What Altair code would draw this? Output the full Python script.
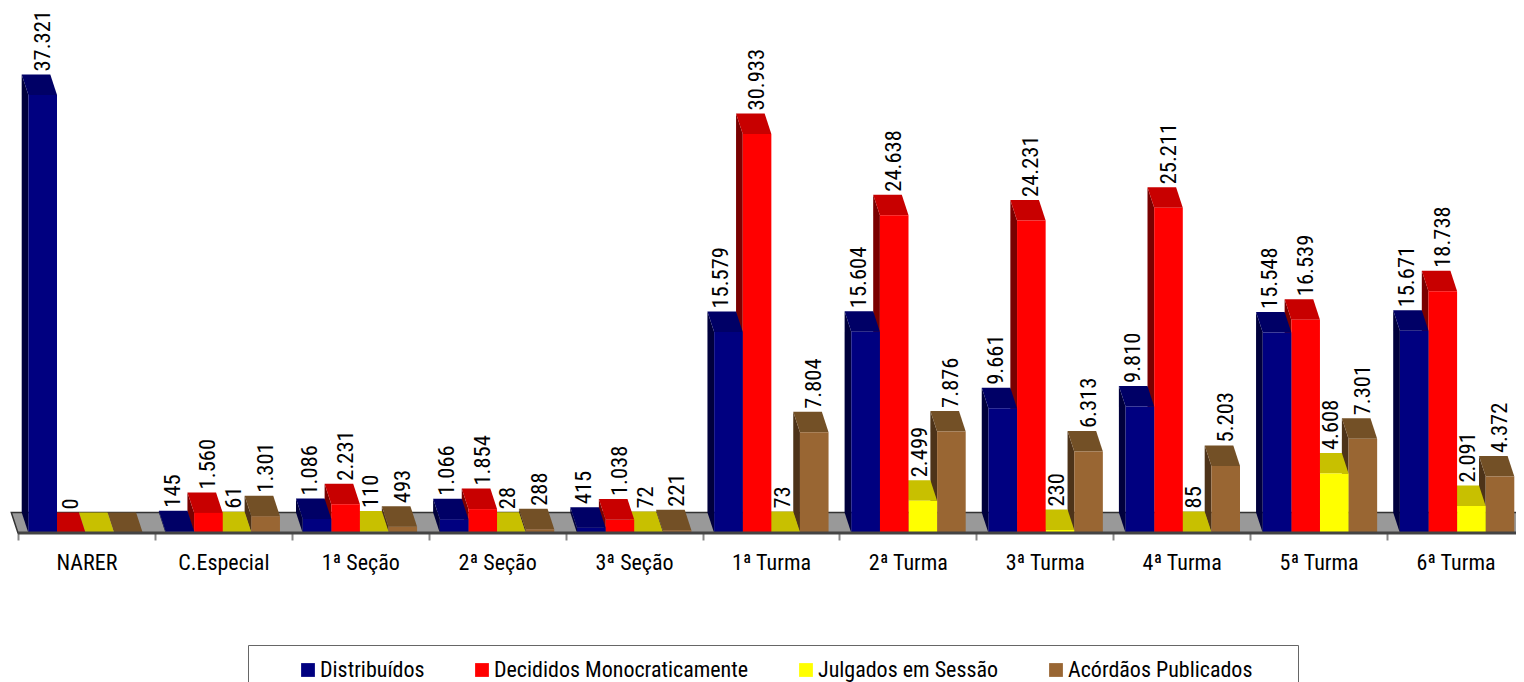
import altair as alt
import pandas as pd

categories = ["NARER", "C.Especial", "1ª Seção", "2ª Seção", "3ª Seção", "1ª Turma",
              "2ª Turma", "3ª Turma", "4ª Turma", "5ª Turma", "6ª Turma"]
series_names = ["Distribuídos", "Decididos Monocraticamente", "Julgados em Sessão", "Acórdãos Publicados"]
distribuidos = [37321, 145, 1086, 1066, 415, 15579, 15604, 9661, 9810, 15548, 15671]
decididos = [0, 1560, 2231, 1854, 1038, 30933, 24638, 24231, 25211, 16539, 18738]
julgados = [0, 61, 110, 28, 72, 73, 2499, 230, 85, 4608, 2091]
acordaos = [0, 1301, 493, 288, 221, 7804, 7876, 6313, 5203, 7301, 4372]
series_values = [distribuidos, decididos, julgados, acordaos]

front_colors = ["#000080", "#ff0000", "#ffff00", "#996633"]
top_colors = ["#000066", "#c80000", "#c8c000", "#735026"]
side_colors = ["#00003c", "#7a0000", "#7a7a00", "#4d3319"]
label_shift_px = [-7, 0, -3, 0]   # labels do not sit exactly above the bar centres

FONT = "Roboto Condensed"
PX_X = 136.9            # pixels per category on the axis
BAR_STEP = 137.15 / PX_X  # bars step slightly wider than the ticks
PX_Y = 0.0129           # pixels per unit
AXIS_MAX = 33950        # value axis maximum: taller bars are cut here
DEPTH_X = 6.7 / PX_X    # oblique depth of a bar in x units
DEPTH_Y = 20.5 / PX_Y   # oblique depth of a bar in y units
GAP = 10.4 / PX_X
BAR_W = 28.6 / PX_X

WIDTH, HEIGHT = 1508, 525
xs = alt.Scale(domain=[-10 / PX_X, 1498 / PX_X], nice=False, zero=False)
ys = alt.Scale(domain=[0, HEIGHT / PX_Y], nice=False, zero=False)

n = len(categories)
label_expr = "(" + str(categories + [""]) + ")[datum.value]"
x_axis = alt.Axis(values=list(range(n + 1)), labelExpr=label_expr, title=None, grid=False,
                  labelOffset=PX_X / 2, labelFont=FONT, labelFontSize=22, labelColor="#000",
                  labelPadding=12, labelBound=False, labelFlush=False, labelOverlap=False,
                  tickColor="#888888", tickSize=7, tickWidth=2, domain=False)


def X():
    return alt.X("x:Q", scale=xs, axis=x_axis, stack=False)


def Y():
    return alt.Y("y:Q", scale=ys, axis=None, stack=False)


fronts, tops, sides, texts = [], [], [], []
for s, vals in enumerate(series_values):
    for c, v in enumerate(vals):
        h = min(v, AXIS_MAX)
        x0 = c * BAR_STEP + GAP + s * BAR_W
        key = f"{s}-{c}"
        base = {"s": s, "key": key, "serie": series_names[s]}
        fronts += [{**base, "y": 0, "x": x0, "x2": x0 + BAR_W},
                   {**base, "y": h, "x": x0, "x2": x0 + BAR_W}]
        tops += [{**base, "y": h, "x": x0, "x2": x0 + BAR_W},
                 {**base, "y": h + DEPTH_Y, "x": x0 - DEPTH_X, "x2": x0 + BAR_W - DEPTH_X}]
        sides += [{**base, "x": x0 - DEPTH_X, "y": DEPTH_Y, "y2": h + DEPTH_Y},
                  {**base, "x": x0, "y": 0, "y2": h}]
        if not (c == 0 and s >= 2):  # the reference prints no zero labels for these two
            shift = 0 if c == 0 else label_shift_px[s] / PX_X
            texts.append({"x": x0 + BAR_W / 2 + shift, "y": h + DEPTH_Y,
                          "label": f"{v:,}".replace(",", ".")})

fronts, tops, sides = pd.DataFrame(fronts), pd.DataFrame(tops), pd.DataFrame(sides)

floor_df = pd.DataFrame([
    {"y": 0, "x": 0, "x2": n},
    {"y": DEPTH_Y, "x": -DEPTH_X, "x2": n - DEPTH_X},
])

floor = alt.Chart(floor_df).mark_area(orient="horizontal", color="#999999", stroke="#333333",
                                      strokeWidth=1.5).encode(
    x=X(), x2="x2:Q", y=Y())

legend_frame = alt.Chart(pd.DataFrame({"f": [0]})).mark_rect(
    fill="#ffffff", stroke="#666666", strokeWidth=1).encode(
    x=alt.value(240.5), x2=alt.value(1290.5), y=alt.value(637.5), y2=alt.value(720))

layers = [legend_frame, floor]
legend = alt.Legend(orient="none", legendX=289, legendY=651, direction="horizontal", title=None,
                    symbolType="square", symbolSize=190, symbolStrokeWidth=0, labelFont=FONT,
                    labelFontSize=22, labelColor="#000", labelOffset=1, columnPadding=46,
                    padding=0, labelLimit=400)
color_scale = alt.Scale(domain=series_names, range=front_colors)

for s in reversed(range(4)):
    layers.append(alt.Chart(sides[sides.s == s]).mark_area(orient="vertical", color=side_colors[s]).encode(
        x=X(), y=Y(), y2="y2:Q", detail="key:N"))
    layers.append(alt.Chart(tops[tops.s == s]).mark_area(orient="horizontal", color=top_colors[s]).encode(
        x=X(), x2="x2:Q", y=Y(), detail="key:N"))
    layers.append(alt.Chart(fronts[fronts.s == s]).mark_area(orient="horizontal").encode(
        x=X(), x2="x2:Q", y=Y(), detail="key:N",
        color=alt.Color("serie:N", scale=color_scale, legend=legend)))

baseline = alt.Chart(floor_df[floor_df.y == 0]).mark_rule(color="#444444", strokeWidth=3).encode(
    x=X(), x2="x2:Q", y=Y())
layers.append(baseline)

labels = alt.Chart(pd.DataFrame(texts)).mark_text(
    angle=270, align="left", baseline="middle", dx=3, font=FONT, fontSize=22.5, color="#000").encode(
    x=X(), y=Y(), text="label:N")
layers.append(labels)

chart = alt.layer(*layers).properties(
    width=WIDTH, height=HEIGHT,
    autosize=alt.AutoSizeParams(type="none"),
    padding={"left": 0, "top": 0, "right": 0, "bottom": 149},
).configure_view(stroke=None)

chart.save("out.html", embed_options={"renderer": "svg", "actions": False})
